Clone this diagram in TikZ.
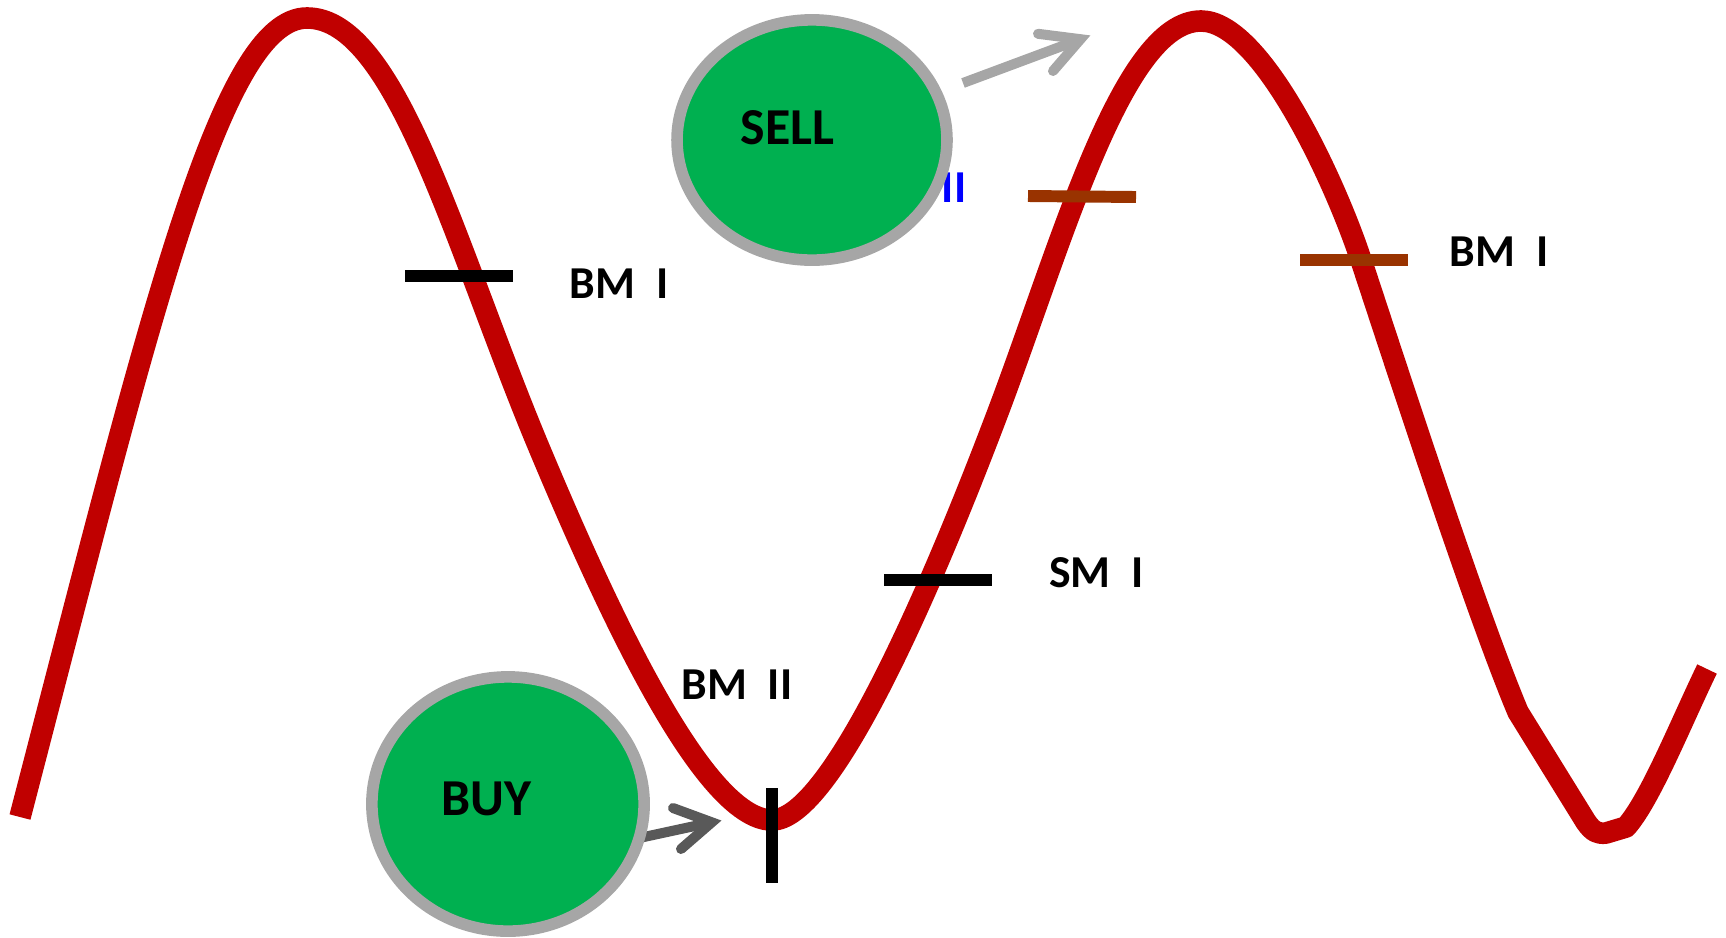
\documentclass[tikz,border=0pt]{standalone}
\usepackage{fontspec}
\setmainfont{Carlito}
\usetikzlibrary{shapes.geometric}
\definecolor{curvered}{HTML}{C00000}
\definecolor{signgreen}{HTML}{00B050}
\definecolor{rimgray}{HTML}{A6A6A6}
\definecolor{darkarrow}{HTML}{595959}
\definecolor{barbrown}{HTML}{993300}
\definecolor{labelblue}{HTML}{0000FF}
\begin{document}
\begin{tikzpicture}[x=0.02cm,y=-0.02cm,
  wave/.style={draw=curvered, line width=12.3pt, line join=round},
  markbar/.style={line width=6.8pt},
  signal/.style={ellipse, draw=rimgray, fill=signgreen, line width=6.6pt, inner sep=0pt},
  signtext/.style={font=\fontsize{29.5}{31}\selectfont\bfseries, inner sep=0pt},
  marklabel/.style={font=\fontsize{26}{28}\selectfont\bfseries, inner sep=0pt},
  sellarrow/.style={draw=rimgray, line width=5.7pt, line join=miter},
  buyarrow/.style={draw=darkarrow, line width=5.7pt, line join=miter}
]
\useasboundingbox (0,0) rectangle (1726,937);

% the price curve
\draw[wave] (20,817) .. controls (150,317) and (220,18) .. (307,18)
  .. controls (397,18) and (456,250) .. (540,450)
  .. controls (603,600) and (702,820) .. (772,820)
  .. controls (827,820) and (919,620) .. (995,420)
  .. controls (1060,250) and (1121,21) .. (1201,21)
  .. controls (1261,21) and (1334.6,180) .. (1361,260)
  .. controls (1400.6,380) and (1476,612) .. (1518,712)
  -- (1586,822)
  .. controls (1593,832) and (1598,834) .. (1606,833)
  -- (1626,827)
  .. controls (1650,800) and (1680,725) .. (1707,669);

% marker bars
\draw[markbar, black] (405,276) -- (513,276);
\draw[markbar, barbrown] (1028,196) -- (1136,197);
\draw[markbar, barbrown] (1300,260) -- (1408,260);
\draw[markbar, black] (884,580) -- (992,580);
\draw[markbar, black] (772,788) -- (772,883);

% labels
\node[marklabel] (bm1a) at (619,283.5) {BM\ \ I};
\node[marklabel] (bm1b) at (1499,251.5) {BM\ \ I};
\node[marklabel] (sm1) at (1096.5,572.5) {SM\ \ I};
\node[marklabel] (bm2) at (737,684.5) {BM\ \ II};
\node[marklabel, text=labelblue] (sm2) at (954,187.5) {II};

% arrows
\coordinate (sellfrom) at (963,83);
\coordinate (selltip) at (1080.5,39.2);
\coordinate (sellarmA) at (1038,33.8);
\coordinate (sellarmB) at (1053,71);
\coordinate (buyfrom) at (630,840);
\coordinate (buytip) at (711.8,822.3);
\coordinate (buyarmA) at (673,808);
\coordinate (buyarmB) at (681,849);
\draw[sellarrow, line cap=butt] (sellfrom) -- (selltip);
\draw[sellarrow, line cap=round] (sellarmA) -- (selltip) -- (sellarmB);
\draw[buyarrow, line cap=butt] (buyfrom) -- (buytip);
\draw[buyarrow, line cap=round] (buyarmA) -- (buytip) -- (buyarmB);

% signal ellipses
\node[signal, minimum width=5.40cm, minimum height=4.806cm] (sell) at (812,140) {};
\node[signal, minimum width=5.446cm, minimum height=5.086cm] (buy) at (508,804) {};
\node[signtext] (selltext) at (787.5,127.5) {SELL};
\node[signtext] (buytext) at (486,799) {BUY};
\end{tikzpicture}
\end{document}
